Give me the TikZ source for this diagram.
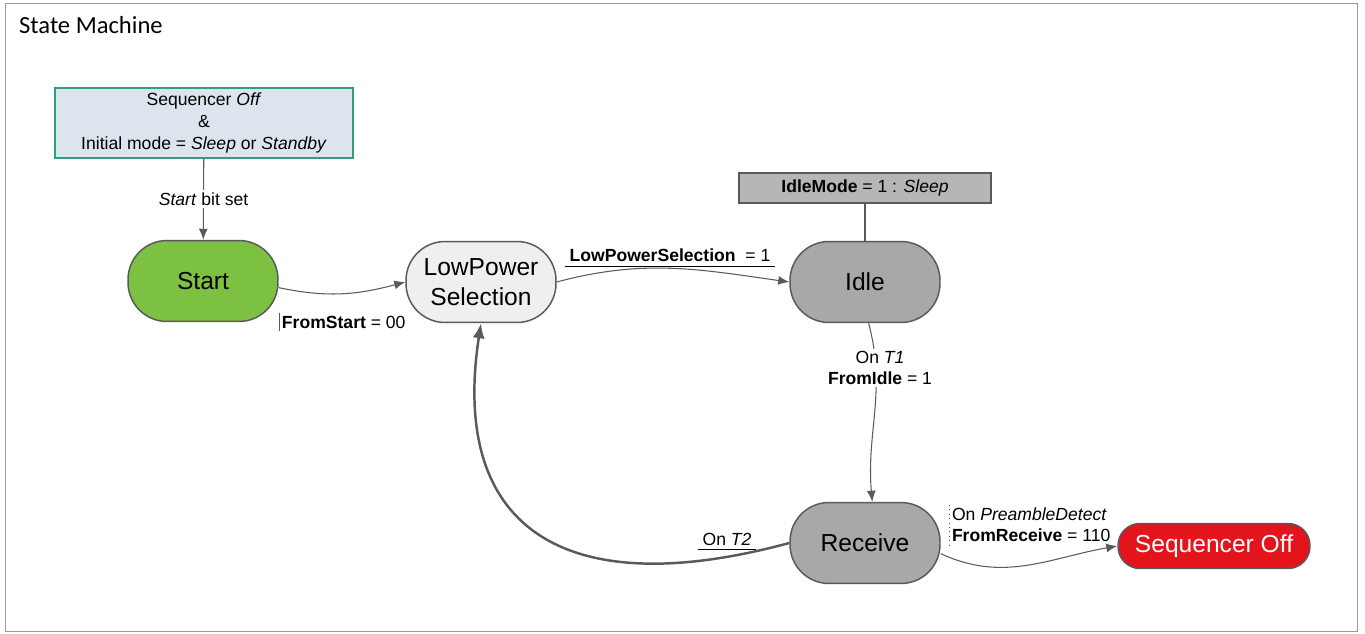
\documentclass[tikz,border=0pt]{standalone}
\usepackage{fontspec}
\setmainfont{Liberation Sans}
\newfontfamily\titlefont{Carlito}
\usetikzlibrary{arrows.meta}
\definecolor{edgegray}{HTML}{5A5A5A}
\definecolor{startgreen}{HTML}{7DC142}
\definecolor{selfill}{HTML}{EFEFEF}
\definecolor{statefill}{HTML}{A8A8A8}
\definecolor{notefill}{HTML}{B6B6B6}
\definecolor{initfill}{HTML}{DCE5EE}
\definecolor{initdraw}{HTML}{2FA07A}
\definecolor{offred}{HTML}{E3141B}

\begin{document}
\begin{tikzpicture}[x=0.02cm,y=-0.02cm,
  state/.style={draw=edgegray,line width=0.85pt,rounded corners=0.78cm,minimum width=3cm,minimum height=1.62cm,inner sep=0pt,align=center,font=\fontsize{14}{17}\selectfont},
  trans/.style={draw=edgegray,line width=0.6pt,-{Latex[length=2.2mm,width=1.8mm]}},
  lbl/.style={inner sep=1.5pt,align=center,font=\fontsize{10}{12}\selectfont}]
\useasboundingbox (0,0) rectangle (1365,634);
\draw[gray!80] (5,3) rectangle (1357,631);
\node[anchor=west,font=\titlefont\fontsize{14}{16}\selectfont] (title) at (13,25) {State Machine};
\node[draw=initdraw,fill=initfill,line width=0.7pt,minimum width=5.96cm,minimum height=1.4cm,inner sep=0pt,align=center,font=\fontsize{10}{12.5}\selectfont] (init) at (204,123) {Sequencer \textit{Off}\\\&\\Initial mode = \textit{Sleep} or \textit{Standby}};
\node[state,fill=startgreen] (start) at (203,281) {Start};
\node[state,fill=selfill] (lpsel) at (481,282) {LowPower\\Selection};
\node[state,fill=statefill] (idle) at (865,282) {Idle};
\node[state,fill=statefill] (receive) at (865,543) {Receive};
\node[state,fill=offred,text=white,minimum width=3.84cm,minimum height=0.9cm,rounded corners=0.44cm] (seqoff) at (1214,546) {Sequencer Off};
\node[draw=edgegray,fill=notefill,line width=0.7pt,minimum width=5.04cm,minimum height=0.6cm,inner sep=0pt,font=\fontsize{10}{12}\selectfont] (idlemode) at (865,188) {\textbf{IdleMode} = 1 : \textit{Sleep}};
\draw[edgegray,line width=0.6pt] (idlemode) -- (idle);
\draw[trans] (init) -- (start) node[lbl,fill=white,midway] (startlbl) {\textit{Start} bit set};
\draw[trans] (start.-5) to[out=-12,in=195] (lpsel.west);
\draw[trans] (lpsel.east) to[out=15,in=172] (idle.west);
\draw[trans] (idle.-85) to[out=-75,in=95] (receive.80);
\draw[trans,line width=1.4pt,-{Latex[length=3mm,width=2.4mm]}] (receive.west) .. controls (560,605) and (450,525) .. (lpsel.south);
\draw[trans] (receive.-8) to[out=-25,in=190] (seqoff.west);
\node[lbl,anchor=west] (fslbl) at (279,322) {\textbf{FromStart} = 00};
\draw[edgegray,line width=0.5pt] (fslbl.north west) -- (fslbl.south west);
\node[lbl,inner sep=2.5pt] (lpslbl) at (670,255) {\textbf{LowPowerSelection}\ \ = 1};
\draw[black,line width=0.6pt] (lpslbl.south west) -- (lpslbl.south east);
\node[lbl,fill=white] (t1lbl) at (880,368) {On \textit{T1}\\\textbf{FromIdle} = 1};
\node[lbl,inner sep=2.5pt] (t2lbl) at (727,539) {On \textit{T2}};
\draw[black,line width=0.6pt] (t2lbl.south west) -- (t2lbl.south east);
\node[lbl,anchor=west,align=left] (pdlbl) at (949,525) {On \textit{PreambleDetect}\\\textbf{FromReceive} = 110};
\draw[edgegray,line width=0.5pt,dotted] (pdlbl.north west) -- (pdlbl.south west);
\end{tikzpicture}
\end{document}
